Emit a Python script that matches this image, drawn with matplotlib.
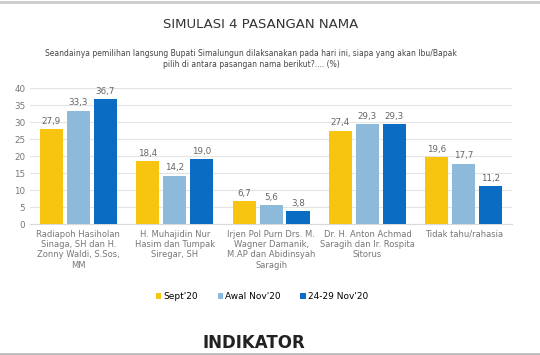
import numpy as np
from matplotlib import pyplot as plt

categories = ['Radiapoh Hasiholan\nSinaga, SH dan H.\nZonny Waldi, S.Sos,\nMM',
              'H. Muhajidin Nur\nHasim dan Tumpak\nSiregar, SH',
              'Irjen Pol Purn Drs. M.\nWagner Damanik,\nM.AP dan Abidinsyah\nSaragih',
              'Dr. H. Anton Achmad\nSaragih dan Ir. Rospita\nSitorus',
              'Tidak tahu/rahasia']
series_names = ["Sept'20", "Awal Nov'20", "24-29 Nov'20"]
sept = [27.9, 18.4, 6.7, 27.4, 19.6]
awal_nov = [33.3, 14.2, 5.6, 29.3, 17.7]
akhir_nov = [36.7, 19.0, 3.8, 29.3, 11.2]
colors = ['#F7C410', '#8DBADB', '#0B6CC3']

fig = plt.figure(figsize=(5.4, 3.55), dpi=100)
fig.patch.set_facecolor('white')
ax = fig.add_axes([0.056, 0.369, 0.892, 0.383])

x = np.arange(len(categories))
w = 0.24
off = 0.28
for i, (vals, c, name) in enumerate(zip([sept, awal_nov, akhir_nov], colors, series_names)):
    bars = ax.bar(x + (i - 1) * off, vals, w, color=c, label=name, zorder=3)
    for b, v in zip(bars, vals):
        ax.text(b.get_x() + b.get_width() / 2, v + 1.0, f'{v:.1f}'.replace('.', ','),
                ha='center', va='bottom', fontsize=6.3, color='#666666')

ax.set_ylim(0, 40)
ax.set_xlim(-0.5, 4.5)
ax.set_yticks(range(0, 41, 5))
ax.tick_params(axis='y', labelsize=6.3, colors='#777777', length=0)
ax.set_xticks(x)
ax.set_xticklabels(categories, fontsize=6, color='#777777', linespacing=1.2)
ax.tick_params(axis='x', length=0, pad=4)
ax.grid(axis='y', color='#E4E4E4', linewidth=0.8, zorder=0)
for s in ['top', 'right', 'left']:
    ax.spines[s].set_visible(False)
ax.spines['bottom'].set_color('#D9D9D9')

fig.legend(loc='center', bbox_to_anchor=(0.485, 0.165), ncol=3, frameon=False,
           fontsize=6.5, handlelength=0.6, handleheight=0.6, handletextpad=0.2,
           columnspacing=2.2)

fig.text(0.482, 0.93, 'SIMULASI 4 PASANGAN NAMA', ha='center', va='center',
         fontsize=9.5, color='#333333')
fig.text(0.465, 0.835, 'Seandainya pemilihan langsung Bupati Simalungun dilaksanakan pada hari ini, siapa yang akan Ibu/Bapak\npilih di antara pasangan nama berikut?.... (%)',
         ha='center', va='center', fontsize=5.5, color='#444444', linespacing=1.3)
fig.text(0.47, 0.033, 'INDIKATOR', ha='center', va='center', fontsize=12,
         fontweight='bold', color='#222222')

# top and bottom bands
fig.add_artist(plt.Line2D([0, 1], [0.995, 0.995], color='#CCCCCC', linewidth=2))
fig.add_artist(plt.Line2D([0, 1], [0.004, 0.004], color='#BBBBBB', linewidth=2))

plt.savefig('out.png', dpi=100)
